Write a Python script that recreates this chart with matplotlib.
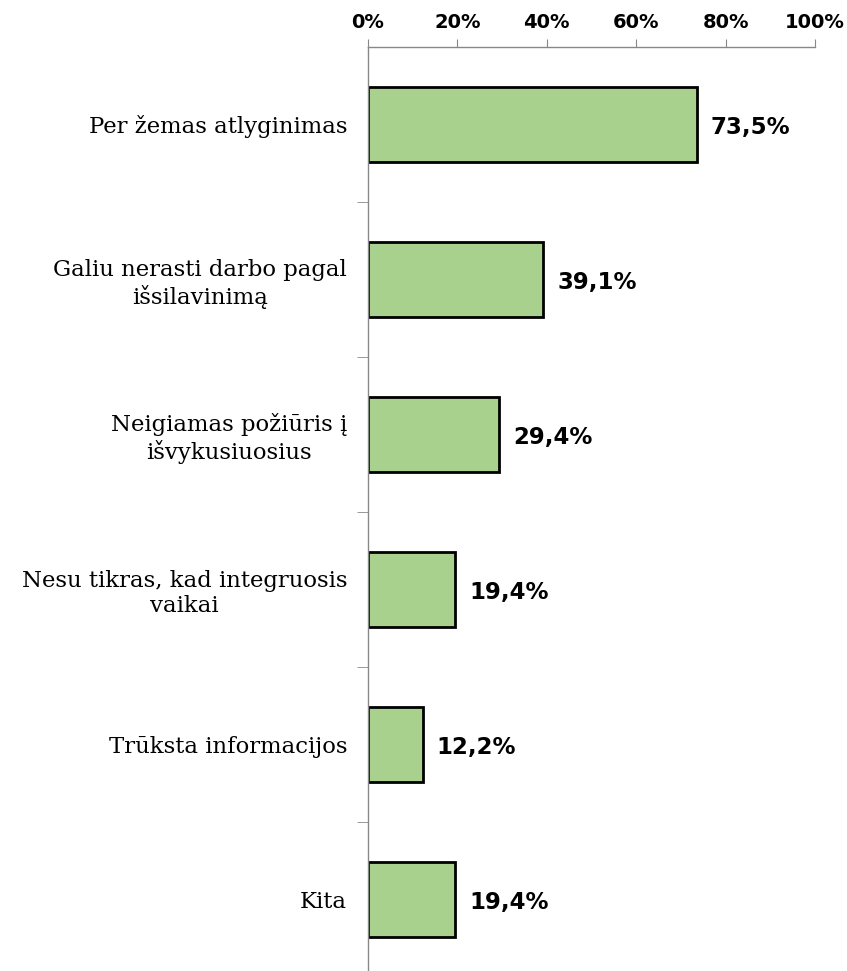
import matplotlib.pyplot as plt
from matplotlib.ticker import FixedLocator, PercentFormatter

categories = [
    "Per žemas atlyginimas",
    "Galiu nerasti darbo pagal\nišsilavinimą",
    "Neigiamas požiūris į\nišvykusiuosius",
    "Nesu tikras, kad integruosis\nvaikai",
    "Trūksta informacijos",
    "Kita",
]
values = [73.5, 39.1, 29.4, 19.4, 12.2, 19.4]
xticks = [0, 20, 40, 60, 80, 100]

fig = plt.figure(figsize=(8.47, 9.71), dpi=100)
# axes run slightly past the bottom edge of the figure
ax = fig.add_axes([368 / 847, -6 / 971, 447 / 847, 930 / 971])

pos = list(range(len(categories)))
ax.barh(pos, values, height=0.49, color="#a9d18e", edgecolor="black", linewidth=2)
ax.set_ylim(len(categories) - 0.5, -0.5)
ax.set_xlim(0, 100)

for p, v in zip(pos, values):
    ax.text(v + 3.2, p + 0.02, f"{v:.1f}%".replace(".", ","), va="center", ha="left",
            fontsize=16.5, fontweight="bold", family="DejaVu Sans")

ax.xaxis.tick_top()
ax.set_xticks(xticks)
ax.xaxis.set_major_formatter(PercentFormatter(decimals=0))
ax.tick_params(axis="x", direction="out", length=6, color="#888888", pad=5,
               labelsize=14)
for lbl in ax.get_xticklabels():
    lbl.set_fontweight("bold")

ax.set_yticks(pos)
ax.set_yticklabels(categories, family="DejaVu Serif", fontsize=16.4,
                   ha="right", multialignment="center")
ax.tick_params(axis="y", which="major", length=0, pad=15)
ax.yaxis.set_minor_locator(FixedLocator([p + 0.5 for p in pos]))
ax.tick_params(axis="y", which="minor", direction="out", length=8, color="#888888")

for side in ["right", "bottom"]:
    ax.spines[side].set_visible(False)
for side in ["left", "top"]:
    ax.spines[side].set_color("#888888")
    ax.spines[side].set_linewidth(1)

fig.savefig("out.png", dpi=100)
